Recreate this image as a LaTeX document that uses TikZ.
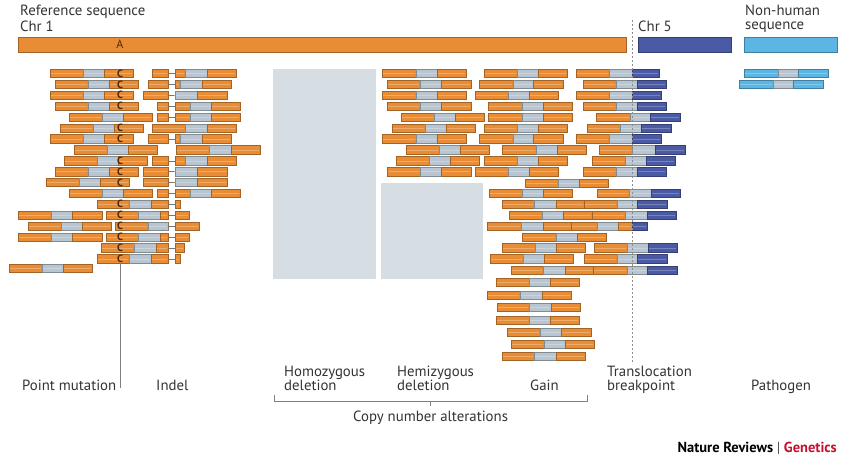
\documentclass[tikz,border=0pt]{standalone}
\usepackage{fontspec}
\setmainfont{PT Sans}

\definecolor{readorange}{HTML}{E88D35}
\definecolor{readgray}{HTML}{B9C6D1}
\definecolor{chrblue}{HTML}{4B5AA5}
\definecolor{bugblue}{HTML}{5BB6E4}
\definecolor{delbox}{HTML}{D6DEE3}
\definecolor{labeltext}{HTML}{333333}
\definecolor{nrgred}{HTML}{C8102E}
\definecolor{basebrown}{HTML}{4B2A0C}

% one coloured piece of a read: y, from, to, colour
\newcommand{\readpart}[4]{%
  \filldraw[fill=#4, draw=#4!70!black, line width=0.5pt] (#2,#1-4.2) rectangle (#3,#1+4.2);
  \draw[#4!75!white, line width=0.4pt] (#2+1,#1) -- (#3-1,#1);}
% y, start, grey from, grey to, end
\newcommand{\seqread}[5]{\readpart{#1}{#2}{#3}{readorange}\readpart{#1}{#3}{#4}{readgray}\readpart{#1}{#4}{#5}{readorange}}
\newcommand{\transread}[5]{\readpart{#1}{#2}{#3}{readorange}\readpart{#1}{#3}{#4}{readgray}\readpart{#1}{#4}{#5}{chrblue}}
\newcommand{\bugread}[5]{\readpart{#1}{#2}{#3}{bugblue}\readpart{#1}{#3}{#4}{readgray}\readpart{#1}{#4}{#5}{bugblue}}
\newcommand{\gapline}[1]{\draw[readgray!60!black, line width=0.4pt] (168,#1) -- (175,#1);}

\tikzset{
  tagtext/.style={anchor=base west, inner sep=0pt, align=left, text=labeltext,
    font=\fontsize{14.8}{14}\selectfont},
  basemark/.style={inner sep=0pt, text=basebrown, font=\bfseries\fontsize{10.5}{10}\selectfont},
  refbase/.style={inner sep=0pt, text=basebrown, font=\fontsize{12}{12}\selectfont},
  leader/.style={draw=black!50, line width=0.6pt},
  bpline/.style={draw=black!45, line width=0.8pt, dash pattern=on 2pt off 2pt}
}

\begin{document}
\begin{tikzpicture}[x=1pt, y=-1pt]
    \useasboundingbox (0,0) rectangle (850,467);

    % reference sequences
    \filldraw[fill=readorange, draw=readorange!70!black] (18,37) rectangle (626,52);
    \filldraw[fill=chrblue, draw=chrblue!70!black] (638,37) rectangle (731,52);
    \filldraw[fill=bugblue, draw=bugblue!70!black] (744,37) rectangle (837,52);
    \node at (120,44.5) (allele) [refbase] {A};

    \node at (20,15.7)  (refseq)   [tagtext] {Reference sequence};
    \node at (20,31.5)  (chr1)     [tagtext] {Chr 1};
    \node at (638,31.5) (chr5)     [tagtext] {Chr 5};
    \node at (745,29)   (nonhuman) [tagtext] {Non-human\\sequence};

    % deleted regions
    \fill[delbox] (273,69) rectangle (376,279);
    \fill[delbox] (381,183) rectangle (483,279);

    % point mutation
    \foreach \y/\a/\b/\c/\d in {73.5/50/83/104/133, 84.4/55/88/109/138, 95.3/50/83/104/133,
        106.2/55/88/109/138, 117.1/69/102/123/152, 128/60/93/114/143, 138.9/50/83/104/133,
        149.8/74/107/128/157, 160.7/64/97/118/147, 171.6/55/88/109/138, 182.5/46/79/100/129,
        193.4/69/102/123/152, 204.3/97/129/151/168, 215.2/18/51/72/102, 215.2/106/138/160/168,
        226.1/28/61/82/111, 226.1/115/148/168/168, 237/18/51/72/102, 237/106/138/160/168,
        247.9/101/134/156/168, 258.8/97/129/151/168, 268/9/42/63/92}
        \seqread{\y}{\a}{\b}{\c}{\d};
    \foreach \y [count=\i] in {73.5, 84.4, 95.3, 106.2, 128, 138.9, 160.7, 171.6, 182.5,
        204.3, 215.2, 226.1, 237, 247.9, 258.8}
        \node at (120,\y) (snv\i) [basemark] {C};

    % indel
    \foreach \y/\a in {73.5/152, 84.4/148, 95.3/143, 106.2/157, 117.1/157, 138.9/148,
        160.7/152, 171.6/143, 182.5/143, 193.4/157}
        \readpart{\y}{\a}{168}{readorange};
    \foreach \y in {73.5, 84.4, 95.3, 106.2, 117.1, 138.9, 160.7, 171.6, 182.5, 193.4,
        204.3, 215.2, 226.1, 237, 247.9, 258.8}
        \gapline{\y};
    \foreach \y/\a/\b/\c/\d in {73.5/175/185/207/236, 84.4/175/180/202/231, 95.3/175/175/197/227,
        106.2/175/190/211/240, 117.1/175/190/211/240, 128/152/185/207/236, 138.9/175/180/202/231,
        149.8/176/209/231/260, 160.7/175/185/207/236, 171.6/175/175/197/227, 182.5/175/175/197/227,
        193.4/175/190/211/240}
        \seqread{\y}{\a}{\b}{\c}{\d};
    \foreach \y/\d in {204.3/180, 215.2/189, 226.1/199, 237/189, 247.9/184, 258.8/180}
        \readpart{\y}{175}{\d}{readorange};

    % hemizygous deletion and gain
    \foreach \y/\a/\b/\c/\d in {73.5/382/416/437/466, 84.4/387/420/441/471, 95.3/382/416/437/466,
        106.2/387/420/441/471, 117.1/401/434/455/484, 128/392/425/446/475, 138.9/382/416/437/466,
        149.8/406/439/460/489, 160.7/396/429/450/479, 171.6/387/420/441/471,
        73.5/484/517/538/567, 84.4/479/513/533/563, 95.3/475/508/529/558, 106.2/488/522/543/572,
        117.1/488/522/543/572, 128/484/517/538/567, 138.9/479/513/533/563, 149.8/502/536/557/586,
        160.7/484/517/538/567, 171.6/475/508/529/558,
        183/525/558/579/608, 193.5/489/522/543/572, 204.3/502/534/556/584, 215.2/509/542/563/592,
        226.1/487/521/543/571, 237/522/556/577/606, 247.9/502/535/556/585, 258.8/490/523/544/573,
        270.5/511/543/565/593, 282.3/496/529/550/579, 295/487/520/542/571, 307.3/497/529/551/580,
        320/496/529/550/579, 332.3/507/540/561/591, 344/511/544/565/594, 356/502/534/556/585}
        \seqread{\y}{\a}{\b}{\c}{\d};

    % translocation
    \foreach \y/\a/\b/\c/\d in {73.5/576/609/632/659, 84.4/583/616/637/666, 95.3/576/609/632/661,
        106.2/583/616/637/666, 117.1/596/630/650/680, 128/587/620/641/671, 138.9/576/609/632/661,
        149.8/599/632/655/685, 160.7/592/625/646/675, 171.6/583/616/637/666,
        193.5/597/629/651/680, 204.3/584/617/637/667, 215.2/592/625/647/676,
        247.9/594/627/648/677, 258.8/584/617/637/667, 270.5/593/627/647/677}
        \transread{\y}{\a}{\b}{\c}{\d};
    \readpart{226.1}{571}{597}{readorange}\readpart{226.1}{597}{618}{readgray}
    \readpart{226.1}{618}{632}{readorange}\readpart{226.1}{632}{647}{chrblue}

    \coordinate (bptop) at (632,20);
    \coordinate (bpbot) at (632,364);
    \draw[bpline] (bptop) -- (bpbot);

    % pathogen
    \bugread{73.5}{744}{778}{798}{828}
    \bugread{84.4}{739}{773}{793}{823}

    % labels
    \node at (22,390)  (pm)       [tagtext] {Point mutation};
    \node at (156,390) (indel)    [tagtext] {Indel};
    \node at (284,390) (homo)     [tagtext] {Homozygous\\deletion};
    \node at (397,390) (hemi)     [tagtext] {Hemizygous\\deletion};
    \node at (530,390) (gain)     [tagtext] {Gain};
    \node at (607,390) (transloc) [tagtext] {Translocation\\breakpoint};
    \node at (751,390) (pathogen) [tagtext] {Pathogen};
    \node at (353,421) (cna)      [tagtext] {Copy number alterations};
    \node at (837,452) (nrg) [anchor=base east, inner sep=0pt, font=\bfseries\fontsize{14.5}{15}\selectfont]
        {Nature Reviews {\mdseries\color{black!70}|} \textcolor{nrgred}{Genetics}};

    \coordinate (pmfoot) at (120,388);
    \draw[leader] (snv15.south) -- (pmfoot);

    \coordinate (cnaL) at (274,395);
    \coordinate (cnaR) at (587,395);
    \coordinate (cnaTick) at (430.5,406);
    \draw[leader] (cnaL) -- ++(0,6) -| (cnaR);
    \draw[leader] (cnaTick) -- ++(0,-5);
\end{tikzpicture}
\end{document}
